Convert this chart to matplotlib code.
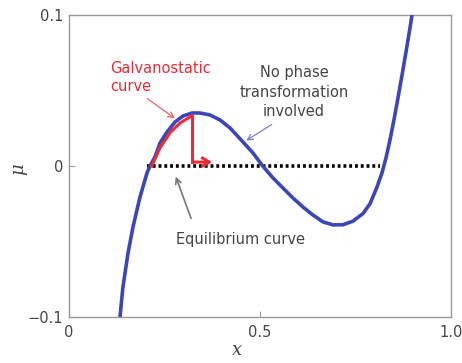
import matplotlib
matplotlib.use("Agg")
import matplotlib.pyplot as plt

# Blue chemical potential curve
curve_x = [0.1335, 0.1410, 0.1545, 0.1675, 0.1859, 0.2042, 0.2120, 0.2251, 0.2382, 0.2565,
           0.2775, 0.2984, 0.3220, 0.3429, 0.3691, 0.3953, 0.4215, 0.4555, 0.4817, 0.5070,
           0.5340, 0.5602, 0.5864, 0.6126, 0.6387, 0.6649, 0.6911, 0.7173, 0.7435, 0.7696,
           0.7880, 0.8063, 0.8194, 0.8300, 0.8405, 0.8510, 0.8615, 0.8720, 0.8825, 0.8930, 0.8979]
curve_y = [-0.1000, -0.0805, -0.0576, -0.0404, -0.0205, -0.0046, 0.0000, 0.0060, 0.0152, 0.0225,
           0.0291, 0.0331, 0.0351, 0.0351, 0.0338, 0.0305, 0.0252, 0.0159, 0.0086, 0.0000,
           -0.0079, -0.0146, -0.0212, -0.0272, -0.0325, -0.0370, -0.0390, -0.0389, -0.0365, -0.0315,
           -0.0250, -0.0139, -0.0045, 0.0055, 0.0175, 0.0310, 0.0455, 0.0605, 0.0760, 0.0920, 0.1000]

# Red galvanostatic path
galv_x = [0.217, 0.238, 0.264, 0.291, 0.317, 0.322]
galv_y = [0.000, 0.0119, 0.0219, 0.0285, 0.0325, 0.0330]
galv_drop_y = 0.0026
galv_arrow_end = 0.382

# Equilibrium (dotted) line
eq_x = [0.204, 0.814]
eq_y = [0.0, 0.0]

xticks = [0, 0.5, 1.0]
xtick_labels = ["0", "0.5", "1.0"]
yticks = [-0.1, 0, 0.1]
ytick_labels = ["\u22120.1", "0", "0.1"]

blue = "#3b47b8"
red = "#ee2a35"
gray = "#444444"
frame = "#999999"

fig = plt.figure(figsize=(4.62, 3.63), dpi=100)
ax = fig.add_axes([69/462, 1-317/363, (451-69)/462, (317-15)/363])
ax.set_xlim(0, 1.0)
ax.set_ylim(-0.1, 0.1)

ax.plot(eq_x, eq_y, color="black", lw=2.6, linestyle=(0, (0.8, 0.8)), solid_capstyle="butt", zorder=2)
ax.plot(curve_x, curve_y, color=blue, lw=2.6, zorder=3, solid_joinstyle="round", solid_capstyle="butt")
ax.plot(galv_x, galv_y, color=red, lw=2.2, zorder=4, solid_joinstyle="round")
ax.plot([galv_x[-1], galv_x[-1]], [galv_y[-1], galv_drop_y], color=red, lw=2.2, zorder=4)
ax.annotate("", xy=(galv_arrow_end, galv_drop_y), xytext=(galv_x[-1] - 0.003, galv_drop_y),
            arrowprops=dict(arrowstyle="->,head_length=0.5,head_width=0.3", color=red, lw=2.2),
            zorder=4)

fs = 10.5
ax.text(0.107, 0.0586, "Galvanostatic\ncurve", color=red, fontsize=fs, ha="left", va="center",
        linespacing=1.3, family="DejaVu Sans")
ax.annotate("", xy=(0.283, 0.0305), xytext=(0.199, 0.0457),
            arrowprops=dict(arrowstyle="->,head_length=0.4,head_width=0.2", color="#f06060", lw=0.9))
ax.text(0.589, 0.049, "No phase\ntransformation\ninvolved", color=gray, fontsize=fs, ha="center",
        va="center", linespacing=1.35, family="DejaVu Sans")
ax.annotate("", xy=(0.458, 0.0159), xytext=(0.537, 0.0285),
            arrowprops=dict(arrowstyle="->,head_length=0.4,head_width=0.2", color="#7a80d0", lw=0.9))
ax.text(0.280, -0.0485, "Equilibrium curve", color=gray, fontsize=fs, ha="left", va="center",
        family="DejaVu Sans")
ax.annotate("", xy=(0.277, -0.0053), xytext=(0.322, -0.0364),
            arrowprops=dict(arrowstyle="->,head_length=0.4,head_width=0.2", color="#777777", lw=1.2))

ax.set_xticks(xticks)
ax.set_xticklabels(xtick_labels)
ax.set_yticks(yticks)
ax.set_yticklabels(ytick_labels)
ax.tick_params(direction="in", length=4, color=frame, labelcolor=gray, labelsize=10.5)
ax.tick_params(axis="x", pad=6)
ax.tick_params(axis="y", pad=4)
for s in ax.spines.values():
    s.set_color(frame)
    s.set_linewidth(1.0)

ax.set_xlabel("x", fontsize=13, family="DejaVu Serif", style="italic", color=gray)
ax.xaxis.label.set_va("center")
ax.xaxis.set_label_coords((237 - 69) / 382, (317 - 350) / 302)
ax.set_ylabel("\u03bc", fontsize=13, family="DejaVu Serif", style="italic", color=gray)
ax.yaxis.label.set_va("center")
ax.yaxis.set_label_coords((18 - 69) / 382, (317 - 169) / 302)

fig.savefig("out.png", dpi=100)
